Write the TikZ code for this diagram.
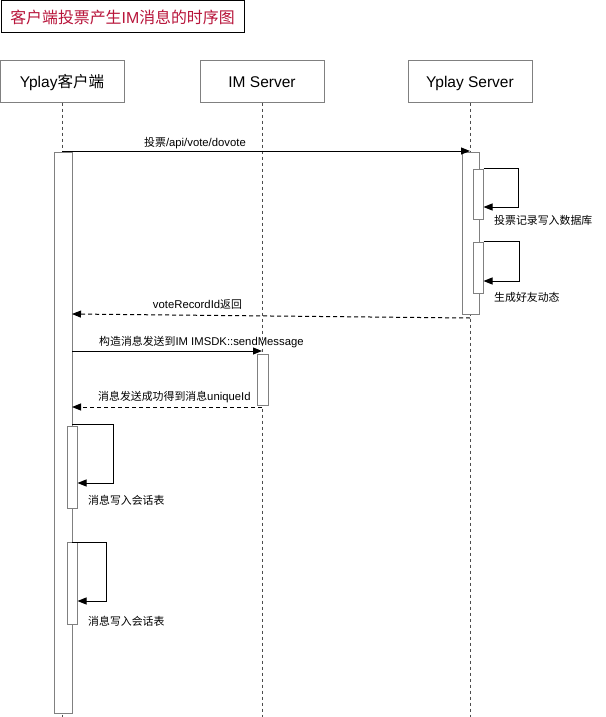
\documentclass[tikz,border=0pt]{standalone}
\usepackage{fontspec}
\setmainfont{Liberation Sans}
\newfontfamily\cjk{Noto Sans CJK SC}
\newfontfamily\cjks{Noto Sans CJK SC}[Scale=0.965]
\usetikzlibrary{arrows.meta}
\definecolor{titlered}{RGB}{184,20,58}
\definecolor{boxgray}{RGB}{128,128,128}
\begin{document}
\begin{tikzpicture}[x=1pt,y=-1pt,
  titlebox/.style={draw=black,line width=1pt,minimum width=243pt,minimum height=32pt,inner sep=0pt,text=titlered,font=\fontsize{15.9}{20}\selectfont},
  header/.style={draw=boxgray,line width=1pt,minimum width=124pt,minimum height=41pt,inner sep=0pt,text height=14pt,text depth=1pt,font=\fontsize{15.5}{18}\selectfont},
  act/.style={draw=boxgray,fill=white,line width=1pt,inner sep=0pt},
  lifeline/.style={draw=black!70,dash pattern=on 3pt off 3pt,line width=1pt},
  msg/.style={draw=black,line width=1pt,-{Triangle[length=9pt,width=7pt]}},
  ret/.style={msg,dash pattern=on 4pt off 3pt},
  lbl/.style={font=\fontsize{11.3}{13}\selectfont,inner sep=0pt},
]
\useasboundingbox (0,0) rectangle (605,717);
\fill[white] (0,0) rectangle (605,717);

% title
\node[titlebox] (title) at (122.5,17) {{\cjk 客户端投票产生}IM{\cjk 消息的时序图}};

% headers
\node[header] (cl) at (62,81.5) {Yplay{\cjk 客户端}};
\node[header] (im) at (262,81.5) {IM Server};
\node[header] (ys) at (470,81.5) {Yplay Server};

% lifeline ends
\coordinate (endC) at (62,717);
\coordinate (endI) at (262,717);
\coordinate (endY) at (470,717);
\draw[lifeline] (cl.south) -- (endC);
\draw[lifeline] (im.south) -- (endI);
\draw[lifeline] (ys.south) -- (endY);

% activations
\node[act,minimum width=18pt,minimum height=561pt] (actC) at (63,432.5) {};
\node[act,minimum width=17pt,minimum height=162pt] (actY) at (470.5,233) {};
\node[act,minimum width=10pt,minimum height=50pt] (actY1) at (478,194) {};
\node[act,minimum width=10pt,minimum height=51pt] (actY2) at (478,267.5) {};
\node[act,minimum width=11pt,minimum height=51pt] (actI) at (262.5,379.5) {};
\node[act,minimum width=10pt,minimum height=82pt] (actC1) at (72,467) {};
\node[act,minimum width=10pt,minimum height=82pt] (actC2) at (72,583) {};

% message 1
\coordinate (m1s) at (62,151);
\coordinate (m1e) at (470,151);
\draw[msg] (m1s) -- (m1e);
\node[lbl] (l1) at (195,143.5) {{\cjks 投票}/api/vote/dovote};

% self loop Y1
\coordinate (y1c) at (518,207);
\draw[msg] (actY1.north east) -| (y1c) -- (actY1.east |- y1c);
\node[lbl,anchor=west] (l2) at (494,220) {\cjks 投票记录写入数据库};

% self loop Y2
\coordinate (y2c) at (519,281);
\draw[msg] (actY2.north east) -| (y2c) -- (actY2.east |- y2c);
\node[lbl,anchor=west] (l3) at (494,297) {\cjks 生成好友动态};

% return voteRecordId
\coordinate (r1s) at (470,318);
\coordinate (r1e) at (72,314);
\draw[ret] (r1s) -- (r1e);
\node[lbl] (l4) at (197.5,304) {voteRecordId{\cjks 返回}};

% send message
\coordinate (m2s) at (72,351);
\coordinate (m2e) at (262,351);
\draw[msg] (m2s) -- (m2e);
\node[lbl,anchor=west] (l5) at (99,342) {{\cjks 构造消息发送到}IM IMSDK::sendMessage};

% return uniqueId
\coordinate (r2s) at (262,407);
\coordinate (r2e) at (72,407);
\draw[ret] (r2s) -- (r2e);
\node[lbl,anchor=west] (l6) at (98,397) {{\cjks 消息发送成功得到消息}uniqueId};

% self loop C1
\coordinate (c1a) at (72,424);
\coordinate (c1c) at (113,483);
\draw[msg] (c1a) -| (c1c) -- (actC1.east |- c1c);
\node[lbl,anchor=west] (l7) at (88,500) {\cjks 消息写入会话表};

% self loop C2
\coordinate (c2a) at (72,542);
\coordinate (c2c) at (106,601);
\draw[msg] (c2a) -| (c2c) -- (actC2.east |- c2c);
\node[lbl,anchor=west] (l8) at (88,621) {\cjks 消息写入会话表};
\end{tikzpicture}
\end{document}
